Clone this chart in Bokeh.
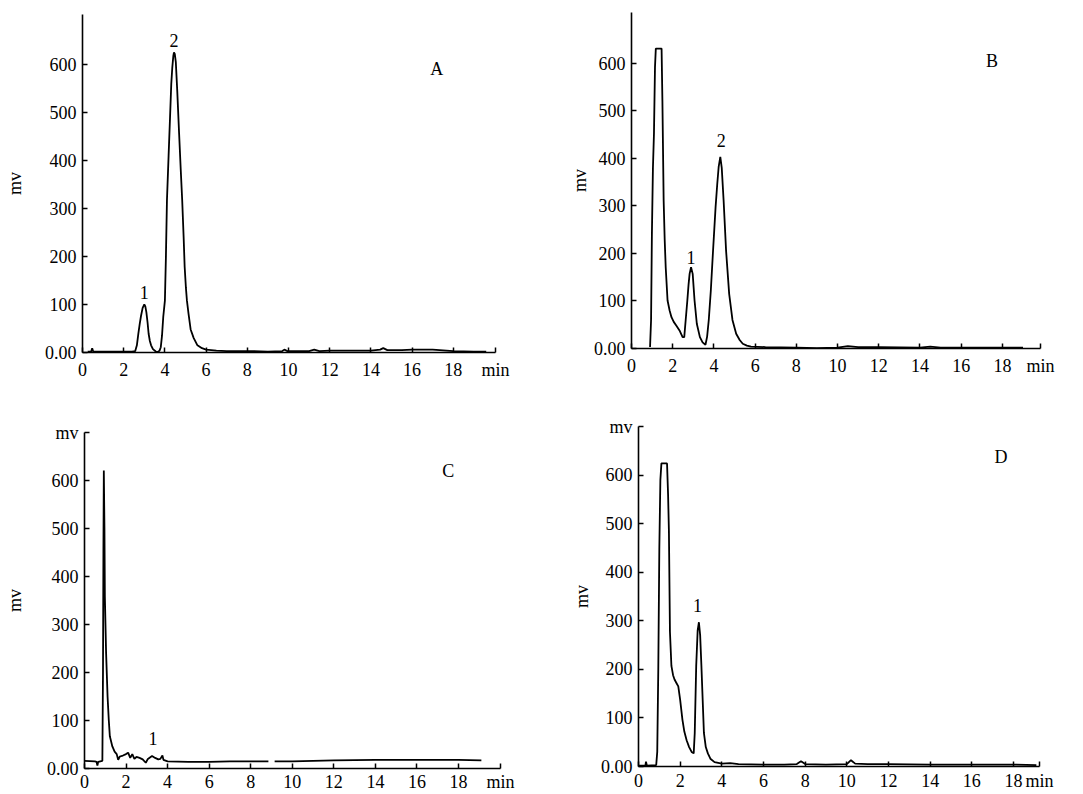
import math
from bokeh.plotting import figure
from bokeh.models import Range1d, Label, FixedTicker
from bokeh.layouts import column, row
from bokeh.embed import file_html
from bokeh.resources import INLINE

NAN = float("nan")
FONT = "Liberation Serif"
FS = "18px"

# ---------------- data ----------------
x_ticks = [0, 2, 4, 6, 8, 10, 12, 14, 16, 18]
y_ticks = [0, 100, 200, 300, 400, 500, 600]
y_zero_label = "0.00"
x_unit = "min"
y_unit = "mv"

# Panel A
A_t = [0.25, 0.42, 0.47, 0.52, 1.0, 1.5, 2.0, 2.4, 2.56, 2.64, 2.71, 2.78, 2.84, 2.92, 3.0, 3.05, 3.1, 3.16, 3.21,
       3.27, 3.33, 3.42, 3.56, 3.66, 3.74, 3.8, 3.86, 3.92, 4.0, 4.05, 4.1, 4.18, 4.25, 4.31, 4.36, 4.41, 4.44,
       4.48, 4.53, 4.6, 4.69, 4.77, 4.84, 4.91, 4.96, 5.02, 5.07, 5.15, 5.25, 5.4, 5.58, 5.8, 6.0, 6.5, 7.0, 8.0,
       9.0, 9.7, 9.8, 9.95, 11.0, 11.25, 11.5, 12.0, 13.0, 14.0, 14.45, 14.6, 14.8, 15.5, 16.0, 17.0, 18.0, 19.0, 19.6]
A_v = [2, 2, 9, 2, 2, 2, 2, 2, 3, 15, 39, 60, 76, 93, 100, 96, 84, 62, 39,
       24, 15, 7, 2, 1, 4, 11, 35, 74, 108, 200, 317, 410, 490, 560, 594, 618, 625,
       622, 605, 545, 456, 380, 317, 240, 178, 135, 108, 80, 48, 30, 15, 9, 6, 4, 3, 3,
       2, 3, 6, 3, 3, 6, 3, 4, 4, 4, 6, 9, 5, 5, 6, 6, 3, 2, 2]

# Panel B
B_t = [0.9, 0.95, 0.99, 1.04, 1.09, 1.14, 1.18, 1.46, 1.5, 1.56, 1.61, 1.66, 1.75, 1.85, 1.94, 2.05, 2.18, 2.33,
       2.48, 2.56, 2.63, 2.71, 2.77, 2.82, 2.89, 2.97, 3.06, 3.17, 3.32, 3.45, 3.59, 3.67, 3.75, 3.85, 3.95, 4.08,
       4.16, 4.23, 4.31, 4.38, 4.47, 4.59, 4.74, 4.9, 5.08, 5.25, 5.4, 5.6, 5.8, 6.5, 8.0, 9.0, 10.0, 10.5, 11.0,
       12.0, 14.0, 14.5, 15.0, 17.0, 19.0]
B_v = [3, 60, 241, 380, 452, 592, 631, 631, 522, 312, 230, 171, 101, 80, 66, 56, 48, 38,
       24, 24, 60, 101, 135, 157, 171, 157, 101, 52, 24, 13, 8, 25, 60, 122, 200, 297,
       345, 382, 403, 380, 312, 206, 115, 60, 31, 18, 10, 6, 4, 3, 2, 1, 2, 5, 3,
       3, 2, 4, 2, 2, 2]

# Panel C (trace broken near 9 min)
C_t = [0.0, 0.5, 0.58, 0.62, 0.66, 0.86, 0.89, 0.91, 0.93, 0.96, 0.98, 1.04, 1.11, 1.17, 1.22, 1.34, 1.45,
       1.55, 1.62, 1.7, 1.85, 2.0, 2.1, 2.2, 2.3, 2.4, 2.5, 2.65, 2.8, 2.95, 3.05, 3.25, 3.4, 3.55, 3.65, 3.75,
       3.8, 4.0, 5.0, 6.0, 7.0, 8.0, 8.85, NAN, 9.15, 10.0, 11.0, 12.0, 14.0, 16.0, 18.0, 19.1]
C_v = [16, 15, 14, 6, 14, 16, 200, 450, 621, 500, 358, 240, 150, 100, 67, 46, 35,
       30, 18, 25, 27, 30, 33, 22, 30, 20, 24, 22, 19, 12, 20, 26, 22, 19, 20, 27,
       18, 15, 14, 14, 15, 15, 15, NAN, 15, 15, 16, 17, 18, 18, 18, 17]

# Panel D
D_t = [0.0, 0.33, 0.36, 0.4, 0.85, 0.9, 0.95, 1.0, 1.05, 1.1, 1.37, 1.42, 1.46, 1.51, 1.58, 1.66, 1.73, 1.82,
       1.91, 2.0, 2.11, 2.2, 2.31, 2.43, 2.55, 2.65, 2.7, 2.77, 2.84, 2.9, 2.96, 3.02, 3.14, 3.23, 3.33, 3.45,
       3.65, 4.0, 4.4, 4.8, 6.0, 7.0, 7.6, 7.8, 8.0, 9.0, 10.0, 10.2, 10.4, 11.0, 12.0, 14.0, 16.0, 18.0, 19.1]
D_v = [2, 2, 10, 2, 3, 30, 200, 450, 590, 624, 624, 560, 485, 277, 207, 188, 179, 172,
       165, 137, 96, 72, 54, 40, 30, 27, 69, 207, 280, 297, 270, 207, 69, 40, 27, 16,
       9, 6, 7, 5, 4, 4, 5, 11, 5, 4, 5, 13, 6, 5, 5, 4, 4, 4, 3]

# ---------------- panel builder ----------------

def make_panel(t, v, xmax, ymax, w, h, bl, br, bt, bb, peaks, letter, mv_standoff, top_mv, x_standoff):
    p = figure(width=w, height=h, x_range=Range1d(0, xmax), y_range=Range1d(0, ymax),
               output_backend="svg", toolbar_location=None, title=None,
               min_border_left=bl, min_border_right=br, min_border_top=bt, min_border_bottom=bb)
    p.background_fill_color = "white"
    p.border_fill_color = "white"
    p.outline_line_color = None
    p.xgrid.visible = False
    p.ygrid.visible = False
    for ax in (p.xaxis[0], p.yaxis[0]):
        ax.axis_line_color = "black"
        ax.axis_line_width = 1.6
        ax.major_tick_in = 5
        ax.major_tick_out = 0
        ax.major_tick_line_color = "black"
        ax.major_tick_line_width = 1.5
        ax.minor_tick_line_color = None
        ax.major_label_text_font = FONT
        ax.major_label_text_font_size = FS
        ax.major_label_text_color = "black"
    p.xaxis[0].ticker = FixedTicker(ticks=x_ticks + [xmax])
    p.xaxis[0].major_label_overrides = {xmax: x_unit}
    yt = list(y_ticks)
    yo = {0: y_zero_label}
    if top_mv:
        yt.append(ymax)
        yo[ymax] = y_unit
    p.yaxis[0].ticker = FixedTicker(ticks=yt)
    p.yaxis[0].major_label_overrides = yo
    p.xaxis[0].major_label_standoff = x_standoff
    p.yaxis[0].major_label_standoff = 6
    p.yaxis[0].axis_label = y_unit
    p.yaxis[0].axis_label_text_font = FONT
    p.yaxis[0].axis_label_text_font_size = FS
    p.yaxis[0].axis_label_text_font_style = "normal"
    p.yaxis[0].axis_label_text_color = "black"
    p.yaxis[0].axis_label_standoff = mv_standoff

    p.line(t, v, line_color="black", line_width=1.8)

    for (px, py, txt) in peaks + [letter]:
        p.add_layout(Label(x=px, y=py, text=txt, text_font=FONT, text_font_size=FS,
                           text_color="black", text_align="center", text_baseline="middle"))
    return p

H1 = 392
H2 = 794 - H1
pA = make_panel(A_t, A_v, 20.05, 704, 541, H1, 82, 46, 14, 40,
                [(3.0, 125, "1"), (4.44, 650, "2")], (17.2, 591, "A"), 17, False, 7)
pB = make_panel(B_t, B_v, 19.85, 707, 542, H1, 90, 43, 12, 44,
                [(2.89, 192, "1"), (4.36, 438, "2")], (17.5, 604, "B"), 1, False, 7)
pC = make_panel(C_t, C_v, 20.02, 700, 541, H2, 84, 41, 40, 22,
                [(3.3, 63, "1")], (17.5, 619, "C"), 19, True, 3)
pD = make_panel(D_t, D_v, 19.25, 700, 542, H2, 97, 44, 34, 28,
                [(2.83, 332, "1")], (17.4, 637, "D"), 6, True, 4)

layout = column(row(column(pA), column(pB)), row(column(pC), column(pD)))
open("out.html", "w").write(file_html(layout, INLINE))
